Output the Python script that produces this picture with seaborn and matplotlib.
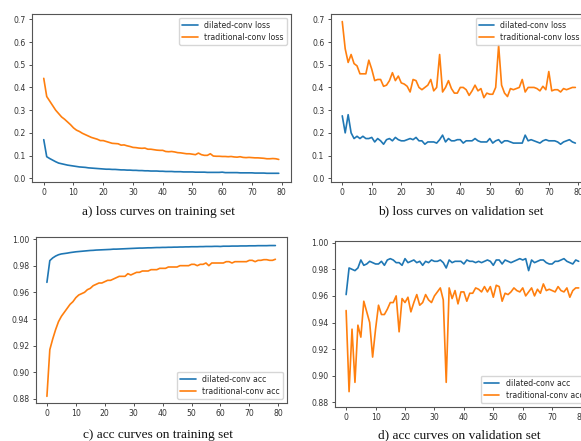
import numpy as np
import pandas as pd
import matplotlib
matplotlib.use("Agg")
import matplotlib.pyplot as plt
import seaborn as sns

sns.set_style("ticks")
plt.rcParams['font.family'] = ['DejaVu Sans']

epochs = list(range(80))

train_loss_dilated = [0.17, 0.095, 0.087, 0.080, 0.073, 0.067, 0.064, 0.061, 0.058, 0.056,
                      0.054, 0.052, 0.050, 0.049, 0.048, 0.046, 0.045, 0.044, 0.043, 0.042,
                      0.041, 0.040, 0.040, 0.039, 0.039, 0.038, 0.037, 0.037, 0.036, 0.036,
                      0.035, 0.035, 0.034, 0.034, 0.033, 0.033, 0.032, 0.032, 0.032, 0.031,
                      0.031, 0.030, 0.030, 0.030, 0.029, 0.029, 0.029, 0.028, 0.028, 0.028,
                      0.028, 0.027, 0.027, 0.027, 0.027, 0.026, 0.026, 0.026, 0.026, 0.026,
                      0.027, 0.025, 0.025, 0.025, 0.025, 0.025, 0.024, 0.024, 0.024, 0.024,
                      0.024, 0.023, 0.023, 0.023, 0.023, 0.022, 0.022, 0.022, 0.022, 0.022]
train_loss_trad = [0.44, 0.36, 0.34, 0.32, 0.30, 0.285, 0.27, 0.26, 0.248, 0.236,
                   0.222, 0.212, 0.206, 0.198, 0.192, 0.186, 0.180, 0.176, 0.172, 0.166,
                   0.166, 0.162, 0.158, 0.154, 0.153, 0.152, 0.146, 0.147, 0.143, 0.140,
                   0.136, 0.135, 0.133, 0.132, 0.133, 0.128, 0.128, 0.126, 0.124, 0.123,
                   0.123, 0.118, 0.117, 0.118, 0.116, 0.113, 0.112, 0.110, 0.108, 0.108,
                   0.106, 0.104, 0.111, 0.104, 0.101, 0.101, 0.108, 0.098, 0.097, 0.097,
                   0.096, 0.096, 0.095, 0.096, 0.094, 0.093, 0.095, 0.092, 0.091, 0.092,
                   0.091, 0.090, 0.090, 0.089, 0.088, 0.086, 0.086, 0.087, 0.086, 0.083]

val_loss_dilated = [0.275, 0.20, 0.28, 0.20, 0.175, 0.185, 0.175, 0.185, 0.175, 0.175,
                    0.18, 0.16, 0.175, 0.165, 0.15, 0.17, 0.175, 0.165, 0.18, 0.17,
                    0.165, 0.165, 0.17, 0.175, 0.17, 0.18, 0.165, 0.165, 0.15, 0.16,
                    0.16, 0.16, 0.155, 0.17, 0.19, 0.16, 0.175, 0.165, 0.165, 0.17,
                    0.17, 0.155, 0.165, 0.165, 0.165, 0.175, 0.165, 0.16, 0.16, 0.16,
                    0.175, 0.155, 0.165, 0.17, 0.155, 0.165, 0.165, 0.16, 0.155, 0.155,
                    0.155, 0.155, 0.19, 0.165, 0.17, 0.165, 0.16, 0.155, 0.165, 0.17,
                    0.165, 0.165, 0.165, 0.16, 0.15, 0.16, 0.165, 0.17, 0.16, 0.155]
val_loss_trad = [0.69, 0.57, 0.51, 0.545, 0.505, 0.495, 0.46, 0.46, 0.46, 0.52,
                 0.48, 0.43, 0.435, 0.435, 0.405, 0.41, 0.43, 0.465, 0.43, 0.45,
                 0.42, 0.415, 0.405, 0.38, 0.435, 0.43, 0.40, 0.39, 0.40, 0.41,
                 0.435, 0.385, 0.40, 0.545, 0.38, 0.40, 0.43, 0.395, 0.375, 0.375,
                 0.40, 0.40, 0.39, 0.365, 0.385, 0.41, 0.385, 0.395, 0.355, 0.375,
                 0.37, 0.37, 0.40, 0.585, 0.41, 0.375, 0.36, 0.395, 0.39, 0.395,
                 0.40, 0.435, 0.38, 0.40, 0.40, 0.40, 0.395, 0.385, 0.405, 0.39,
                 0.47, 0.385, 0.39, 0.39, 0.38, 0.395, 0.39, 0.395, 0.40, 0.40]

train_acc_dilated = [0.9675, 0.9838, 0.9858, 0.9872, 0.9882, 0.9888, 0.9891, 0.9894, 0.9898, 0.9901,
                     0.9904, 0.9906, 0.9908, 0.9910, 0.9912, 0.9914, 0.9915, 0.9917, 0.9918, 0.9919,
                     0.9920, 0.9921, 0.9922, 0.9924, 0.9924, 0.9925, 0.9926, 0.9927, 0.9928, 0.9929,
                     0.9930, 0.9931, 0.9932, 0.9932, 0.9933, 0.9934, 0.9934, 0.9935, 0.9936, 0.9936,
                     0.9937, 0.9937, 0.9938, 0.9938, 0.9939, 0.9939, 0.9940, 0.9940, 0.9941, 0.9941,
                     0.9942, 0.9942, 0.9942, 0.9943, 0.9943, 0.9944, 0.9944, 0.9944, 0.9945, 0.9945,
                     0.9944, 0.9946, 0.9946, 0.9946, 0.9947, 0.9947, 0.9947, 0.9948, 0.9948, 0.9948,
                     0.9949, 0.9949, 0.9949, 0.9950, 0.9950, 0.9950, 0.9950, 0.9951, 0.9951, 0.9951]
train_acc_trad = [0.882, 0.917, 0.925, 0.932, 0.938, 0.942, 0.945, 0.948, 0.951, 0.953,
                  0.956, 0.958, 0.959, 0.960, 0.962, 0.963, 0.965, 0.966, 0.967, 0.967,
                  0.968, 0.969, 0.969, 0.970, 0.971, 0.972, 0.972, 0.972, 0.974, 0.973,
                  0.974, 0.975, 0.975, 0.976, 0.976, 0.976, 0.977, 0.977, 0.977, 0.978,
                  0.978, 0.978, 0.979, 0.979, 0.979, 0.979, 0.980, 0.980, 0.980, 0.980,
                  0.981, 0.981, 0.980, 0.981, 0.981, 0.982, 0.980, 0.982, 0.982, 0.982,
                  0.982, 0.982, 0.983, 0.983, 0.982, 0.983, 0.983, 0.983, 0.983, 0.983,
                  0.984, 0.984, 0.983, 0.984, 0.984, 0.9845, 0.9845, 0.984, 0.984, 0.9848]

val_acc_dilated = [0.961, 0.981, 0.980, 0.979, 0.981, 0.987, 0.983, 0.984, 0.986, 0.985,
                   0.984, 0.984, 0.986, 0.983, 0.987, 0.988, 0.987, 0.985, 0.985, 0.983,
                   0.988, 0.985, 0.986, 0.987, 0.985, 0.986, 0.983, 0.986, 0.985, 0.987,
                   0.986, 0.986, 0.987, 0.985, 0.981, 0.987, 0.985, 0.986, 0.986, 0.986,
                   0.984, 0.987, 0.986, 0.986, 0.985, 0.986, 0.985, 0.986, 0.987, 0.986,
                   0.983, 0.987, 0.987, 0.984, 0.987, 0.986, 0.985, 0.986, 0.987, 0.988,
                   0.987, 0.988, 0.979, 0.987, 0.985, 0.986, 0.987, 0.987, 0.985, 0.984,
                   0.984, 0.986, 0.986, 0.987, 0.988, 0.986, 0.985, 0.984, 0.987, 0.986]
val_acc_trad = [0.949, 0.888, 0.935, 0.895, 0.938, 0.929, 0.956, 0.948, 0.940, 0.914,
                0.935, 0.953, 0.946, 0.946, 0.950, 0.955, 0.955, 0.960, 0.933, 0.958,
                0.955, 0.959, 0.948, 0.955, 0.961, 0.953, 0.955, 0.961, 0.957, 0.955,
                0.960, 0.963, 0.966, 0.957, 0.895, 0.966, 0.958, 0.964, 0.954, 0.963,
                0.963, 0.956, 0.962, 0.962, 0.966, 0.965, 0.963, 0.967, 0.963, 0.967,
                0.959, 0.968, 0.967, 0.956, 0.962, 0.961, 0.963, 0.966, 0.964, 0.963,
                0.966, 0.960, 0.963, 0.966, 0.960, 0.965, 0.962, 0.969, 0.964, 0.965,
                0.964, 0.963, 0.967, 0.964, 0.963, 0.966, 0.959, 0.964, 0.966, 0.966]

captions = ["a) loss curves on training set", "b) loss curves on validation set",
            "c) acc curves on training set", "d) acc curves on validation set"]
loss_labels = ["dilated-conv loss", "traditional-conv loss"]
acc_labels = ["dilated-conv acc", "traditional-conv acc"]

W, H = 581, 441
fig = plt.figure(figsize=(W / 100, H / 100), dpi=100)

def add_ax(left, right, top, bottom):
    return fig.add_axes([left / W, 1 - bottom / H, (right - left) / W, (bottom - top) / H])

panels = [
    dict(box=(32, 290.5, 14, 181.7), data=(train_loss_dilated, train_loss_trad), labels=loss_labels,
         ylim=(-0.015, 0.7233), yticks=[0.0, 0.1, 0.2, 0.3, 0.4, 0.5, 0.6, 0.7], fmt="{:.1f}",
         loc="upper right", cap=(158, 211.5)),
    dict(box=(330.6, 587, 14, 181.7), data=(val_loss_dilated, val_loss_trad), labels=loss_labels,
         ylim=(-0.015, 0.7233), yticks=[0.0, 0.1, 0.2, 0.3, 0.4, 0.5, 0.6, 0.7], fmt="{:.1f}",
         loc="upper right", cap=(461, 211)),
    dict(box=(35.5, 286.8, 237.3, 402.7), data=(train_acc_dilated, train_acc_trad), labels=acc_labels,
         ylim=(0.87722, 1.00128), yticks=[0.88, 0.90, 0.92, 0.94, 0.96, 0.98, 1.00], fmt="{:.2f}",
         loc="lower right", cap=(158, 435)),
    dict(box=(334.5, 590.3, 240.7, 406.7), data=(val_acc_dilated, val_acc_trad), labels=acc_labels,
         ylim=(0.8767, 1.0015), yticks=[0.88, 0.90, 0.92, 0.94, 0.96, 0.98, 1.00], fmt="{:.2f}",
         loc="lower right", cap=(459, 435)),
]

colors = ["#1f77b4", "#ff7f0e"]
for i, p in enumerate(panels):
    ax = add_ax(*p["box"])
    for vals, lab, col in zip(p["data"], p["labels"], colors):
        sns.lineplot(x=epochs, y=vals, ax=ax, label=lab, color=col, linewidth=1.2)
    ax.set_xlim(-3.95, 82.95)
    ax.set_ylim(*p["ylim"])
    ax.set_xticks([0, 10, 20, 30, 40, 50, 60, 70, 80])
    ax.set_yticks(p["yticks"])
    ax.set_yticklabels([p["fmt"].format(v) for v in p["yticks"]])
    ax.tick_params(labelsize=5.6, length=2.5, width=0.6, pad=2, colors="#333333")
    for s in ax.spines.values():
        s.set_color("#555555")
        s.set_linewidth(0.8)
    ax.legend(loc=p["loc"], fontsize=5.6, frameon=True, handlelength=2.0, borderpad=0.4,
              labelspacing=0.35, framealpha=0.8, edgecolor="#cccccc", fancybox=True)
    fig.text(p["cap"][0] / W, 1 - p["cap"][1] / H, captions[i], ha="center", va="center",
             fontsize=9.6, family="Liberation Serif", color="#111111")

fig.savefig("out.png", dpi=100)
